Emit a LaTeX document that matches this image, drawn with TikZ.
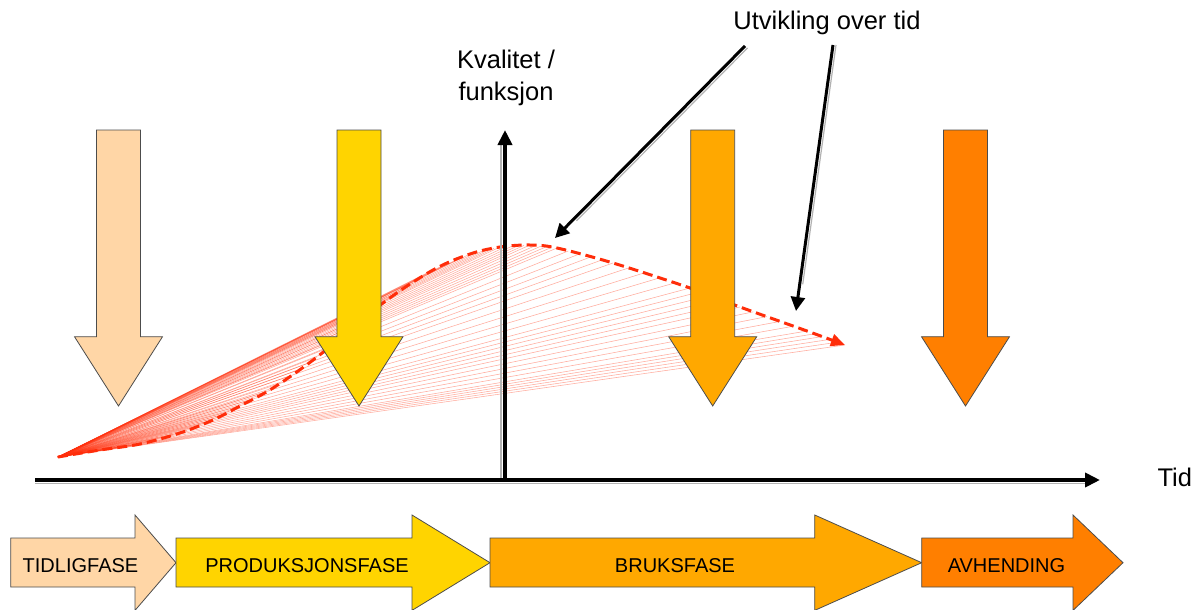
\documentclass[tikz,border=0pt]{standalone}
\usepackage{fontspec}
\setmainfont{Liberation Sans}
\usetikzlibrary{arrows.meta,calc}

\definecolor{peach}{RGB}{255,214,166}
\definecolor{gold}{RGB}{255,212,0}
\definecolor{amber}{RGB}{255,168,0}
\definecolor{deeporange}{RGB}{255,127,0}
\definecolor{curvered}{RGB}{255,45,10}

\tikzset{
  phase/.style={draw=black!70, line width=0.8pt, line join=miter},
  axisline/.style={line width=4pt, -{Triangle[length=15pt,width=14pt]}},
  shade/.style={draw=black!30, line width=1.2pt},
  pointer/.style={line width=3pt, -{Triangle[length=14pt,width=14pt]}},
  fanline/.style={draw=curvered, line width=0.55pt, opacity=0.4},
  trend/.style={draw=curvered, line width=3pt, dash pattern=on 10pt off 5pt,
    -{Triangle[length=14pt,width=12pt]}},
  caption/.style={font=\fontsize{25.5}{32}\selectfont, align=center},
  phaselabel/.style={font=\fontsize{20}{24}\selectfont, anchor=base},
}

% vertical phase marker: centre x, fill colour
\newcommand\dropArrow[2]{%
  \path[phase, fill=#2] (#1-22,130) -- (#1+22,130) -- (#1+22,336.7)
    -- (#1+44,336.7) -- (#1,406) -- (#1-44,336.7) -- (#1-22,336.7) -- cycle;}

% horizontal phase block: left x, head start x, tip x, fill colour
\newcommand\phaseArrow[4]{%
  \path[phase, fill=#4] (#1,538) -- (#2,538) -- (#2,515) -- (#3,562.7)
    -- (#2,610.4) -- (#2,587) -- (#1,587) -- cycle;}

\begin{document}
\begin{tikzpicture}[x=1pt, y=-1pt]
\useasboundingbox (0,0) rectangle (1195,610);

% key points
\coordinate (start) at (58,457);
\coordinate (origin) at (505,480);
\coordinate (xleft) at (35,480);
\coordinate (xend) at (1100,480);
\coordinate (yend) at (505,130);

% support points of the quality curve
\foreach \px/\py [count=\i] in {58/457,100/450,140/444,180/433,213/420,
    240/406,273/388,317/357,383/303,433/270,470/254,500/247,
    530/245,557/248,613/263,690/288,740/307,807/331,845/345}
  \coordinate (c\i) at (\px,\py);

% fan of chords from the starting point
\foreach \i [evaluate=\i as \j using int(\i+1)] in {1,...,18}
  \foreach \t in {0,0.2,0.4,0.6,0.8}
    \draw[fanline] (start) -- ($(c\i)!\t!(c\j)$);
\draw[fanline] (start) -- (c19);

% quality curve
\draw[trend] plot[smooth, tension=0.55] coordinates {
    (c1) (c2) (c3) (c4) (c5) (c6) (c7) (c8) (c9) (c10)
    (c11) (c12) (c13) (c14) (c15) (c16) (c17) (c18) (c19)};

% axes
\draw[shade] ([xshift=-4pt]origin) -- ([xshift=-4pt,yshift=-12pt]yend);
\draw[shade] ([yshift=-3.5pt]xleft) -- ([xshift=-15pt,yshift=-3.5pt]xend);
\draw[axisline] (xleft) -- (xend);
\draw[axisline] (origin) -- (yend);

% phase markers above the axis
\dropArrow{118.5}{peach}
\dropArrow{359}{gold}
\dropArrow{712.7}{amber}
\dropArrow{965.5}{deeporange}

% labels
\node[caption, anchor=base west] (tid) at (1154,486) {Tid};
\node[caption] (quality) at (506,78) {Kvalitet /\\funksjon};
\node[caption, anchor=base] (trendlabel) at (827,30) {Utvikling over tid};

% pointers to the curve
\coordinate (p1s) at (745,46);
\coordinate (p1e) at (555,238);
\coordinate (p2s) at (833,45);
\coordinate (p2e) at (796,311);
\draw[shade] ([shift={(2.5,2)}]p1s) -- ([shift={(2.5,2)}]$(p1e)!0.1!(p1s)$);
\draw[shade] ([shift={(3,0)}]p2s) -- ([shift={(3,0)}]$(p2e)!0.1!(p2s)$);
\draw[pointer] (p1s) -- (p1e);
\draw[pointer] (p2s) -- (p2e);

% life-cycle phases
\phaseArrow{10.7}{135}{176}{peach}
\phaseArrow{176}{412}{490}{gold}
\phaseArrow{490}{814.7}{921.7}{amber}
\phaseArrow{921.7}{1073}{1123}{deeporange}
\node[phaselabel] (early) at (80.5,572) {TIDLIGFASE};
\node[phaselabel] (production) at (307,572) {PRODUKSJONSFASE};
\node[phaselabel] (use) at (675,572) {BRUKSFASE};
\node[phaselabel] (disposal) at (1006.5,572) {AVHENDING};
\end{tikzpicture}
\end{document}
